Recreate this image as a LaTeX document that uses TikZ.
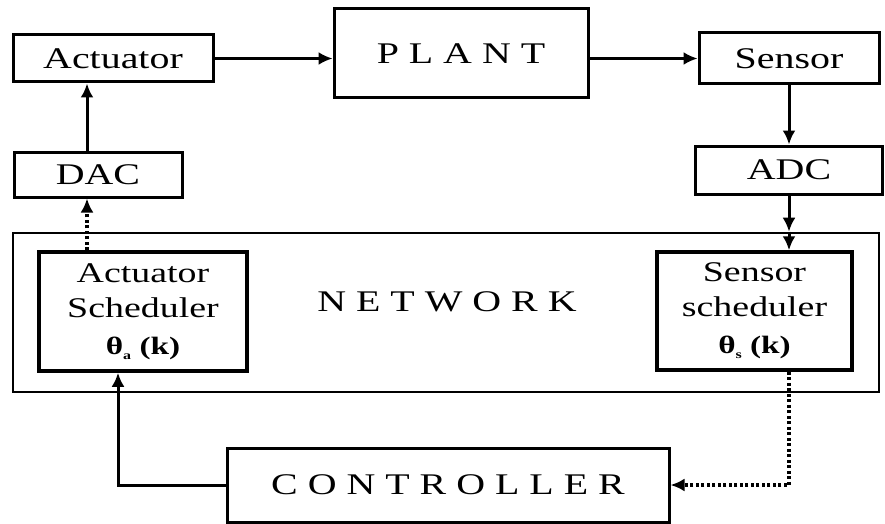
\documentclass[tikz,border=0pt]{standalone}
\usepackage{fontspec}
\setmainfont{Liberation Serif}[FakeStretch=1.33]
\usetikzlibrary{arrows.meta}
\begin{document}
\begin{tikzpicture}[x=1pt,y=-1pt,
  box/.style={draw, line width=3pt, inner sep=0pt, align=center},
  big/.style={font=\fontsize{30}{34}\selectfont},
  sched/.style={font=\fontsize{28.5}{35}\selectfont},
  arr/.style={line width=3pt, -{Latex[length=14pt,width=13pt]}},
  dotarr/.style={line width=3.5pt, dash pattern=on 3pt off 2.5pt, -{Latex[length=14pt,width=13pt]}}]
\useasboundingbox (0,0) rectangle (885,524);
\node[box,big,minimum width=200pt,minimum height=47pt] (act) at (113,58.5) {Actuator};
\node[box,big,minimum width=254pt,minimum height=89pt] (plant) at (461,53.5) {P L A N T};
\node[box,big,minimum width=180pt,minimum height=51pt] (sen) at (789,58.5) {Sensor};
\node[box,big,minimum width=168pt,minimum height=45pt] (dac) at (98,174.5) {DAC};
\node[box,big,minimum width=187pt,minimum height=48pt] (adc) at (789,170) {ADC};
\node[draw,line width=2.6pt,minimum width=866pt,minimum height=159pt] (net) at (446,312.5) {};
\node[big] (nettext) at (447,302) {N E T W O R K};
\node[box,sched,line width=3.5pt,minimum width=208pt,minimum height=119pt] (as) at (143,311.5)
  {Actuator\\Scheduler\\[2pt]{\fontsize{25}{28}\selectfont\bfseries θ\raisebox{-5pt}{\fontsize{12}{12}\selectfont a} (k)}};
\node[box,sched,line width=3.5pt,minimum width=195pt,minimum height=118pt] (ss) at (754.5,311)
  {Sensor\\scheduler\\[2pt]{\fontsize{25}{28}\selectfont\bfseries θ\raisebox{-5pt}{\fontsize{12}{12}\selectfont s} (k)}};
\node[box,big,minimum width=442pt,minimum height=74pt] (ctrl) at (448,485) {C O N T R O L L E R};
\coordinate (ax) at (87,0);
\coordinate (cx) at (118,0);
\draw[arr,line width=2.5pt] (act.east) -- (act.east -| plant.west);
\draw[arr,line width=2.5pt] (sen.west -| plant.east) -- (sen.west);
\draw[arr] (sen.south) -- (adc.north);
\draw[arr] (adc.south) -- (adc.south |- net.north);
\draw[arr] (adc.south |- net.north) -- (adc.south |- ss.north);
\draw[dotarr] (as.north -| ax) -- (dac.south -| ax);
\draw[arr] (dac.north -| ax) -- (act.south -| ax);
\draw[arr] (ctrl.west) -| (as.south -| cx);
\draw[dotarr] (ss.south -| adc.south) |- (ctrl.east);
\end{tikzpicture}
\end{document}
